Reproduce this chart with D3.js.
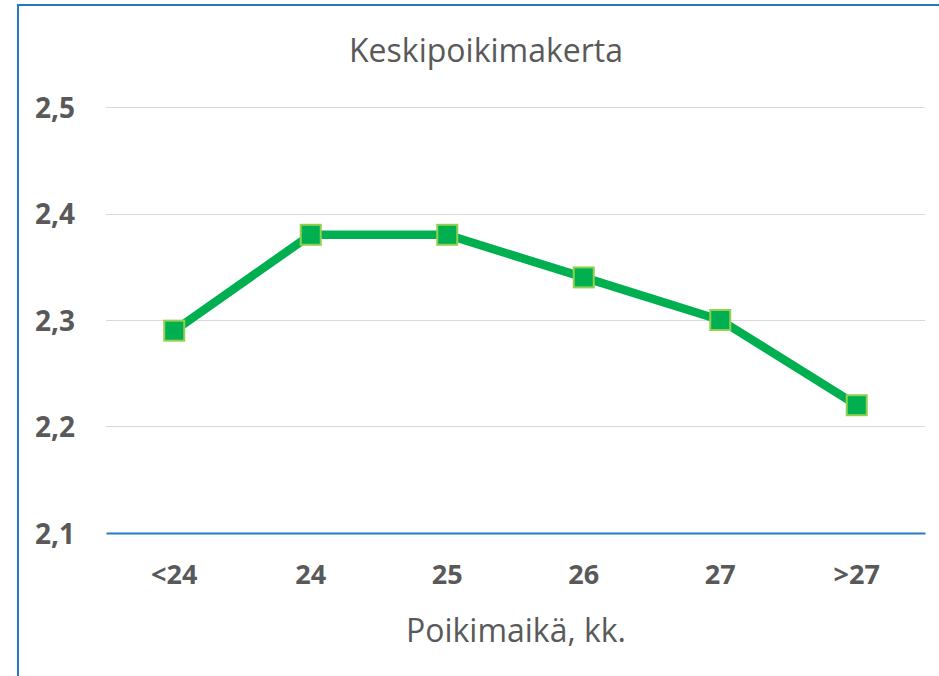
<!DOCTYPE html>
<html><head><meta charset="utf-8">
<script src="https://cdn.jsdelivr.net/npm/d3@7"></script>
<style>html,body{margin:0;padding:0;background:#fff;}svg{display:block;}</style>
</head><body>
<script>
const categories = ["<24","24","25","26","27",">27"];
const values = [2.29,2.38,2.38,2.34,2.30,2.22];
const yTicks = [2.1,2.2,2.3,2.4,2.5];
const yTickLabels = ["2,1","2,2","2,3","2,4","2,5"];
const title = "Keskipoikimakerta";
const xTitle = "Poikimaikä, kk.";

(function(){
const W = 939, H = 676;
const svg = d3.select("body").append("svg").attr("width", W).attr("height", H);
const font = "'Open Sans', 'Noto Sans', sans-serif";
const gray = "#595959";

// chart border
svg.append("line").attr("x1",17).attr("x2",W).attr("y1",5).attr("y2",5).attr("stroke","#2678C9").attr("stroke-width",2);
svg.append("line").attr("x1",18).attr("x2",18).attr("y1",4).attr("y2",H).attr("stroke","#2678C9").attr("stroke-width",2);

const pLeft = 106, pRight = 925, pTop = 107, pBottom = 533;
const x = d3.scaleBand().domain(categories).range([pLeft, pRight]);
const y = d3.scaleLinear().domain([2.1, 2.5]).range([pBottom, pTop]);

// gridlines
svg.append("g").selectAll("line").data(yTicks.filter(d => d > 2.1)).join("line")
  .attr("x1", pLeft).attr("x2", pRight)
  .attr("y1", d => Math.round(y(d)) + 0.5).attr("y2", d => Math.round(y(d)) + 0.5)
  .attr("stroke", "#d9d9d9").attr("stroke-width", 1);

// y axis labels
const yAxis = d3.axisLeft(y).tickValues(yTicks).tickFormat((d,i) => yTickLabels[i]).tickSize(0).tickPadding(0);
const gy = svg.append("g").attr("transform", "translate(75,0)").call(yAxis);
gy.select(".domain").remove();
gy.selectAll("text").attr("font-family", font).attr("font-weight", "bold").attr("font-size", 28)
  .attr("fill", gray).attr("dy", "0.36em");

// x axis
const xAxis = d3.axisBottom(x).tickSize(0).tickPadding(0);
const gx = svg.append("g").attr("transform", `translate(0,${pBottom})`).call(xAxis);
gx.select(".domain").attr("stroke", "#2678C9").attr("stroke-width", 2);
gx.selectAll("text").attr("font-family", font).attr("font-weight", "bold").attr("font-size", 27)
  .attr("fill", gray).attr("y", 51).attr("dy", 0);

// line
const line = d3.line().x((d,i) => x(categories[i]) + x.bandwidth()/2).y(d => y(d));
svg.append("path").datum(values).attr("d", line).attr("fill", "none")
  .attr("stroke", "#00B050").attr("stroke-width", 8.5).attr("stroke-linejoin", "round");

// markers
const ms = 20;
svg.append("g").selectAll("rect").data(values).join("rect")
  .attr("x", (d,i) => x(categories[i]) + x.bandwidth()/2 - ms/2)
  .attr("y", d => y(d) - ms/2)
  .attr("width", ms).attr("height", ms)
  .attr("fill", "#00B050").attr("stroke", "#92D050").attr("stroke-width", 2);

// titles
svg.append("text").attr("x", 486).attr("y", 62).attr("text-anchor", "middle")
  .attr("font-family", font).attr("font-size", 32).attr("fill", gray)
  .attr("textLength", 274).attr("lengthAdjust", "spacingAndGlyphs").text(title);
svg.append("text").attr("x", 516).attr("y", 642).attr("text-anchor", "middle")
  .attr("font-family", font).attr("font-size", 33).attr("fill", gray)
  .attr("textLength", 220).attr("lengthAdjust", "spacingAndGlyphs").text(xTitle);
})();
</script>
</body></html>
